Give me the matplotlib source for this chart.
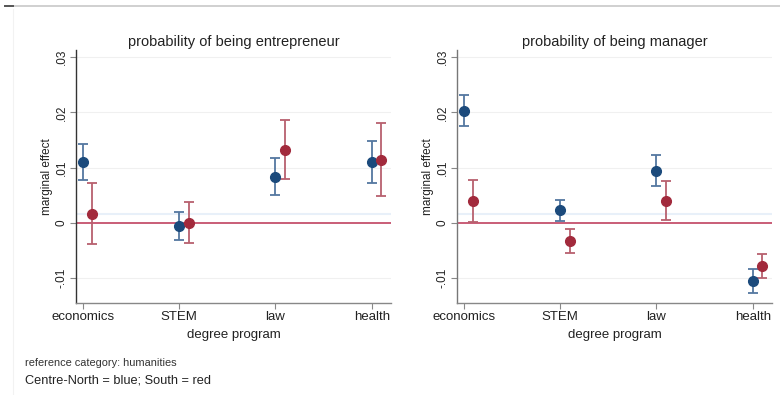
import numpy as np
import matplotlib
matplotlib.use('Agg')
import matplotlib.pyplot as plt
from matplotlib.lines import Line2D

plt.rcParams['font.family'] = ['Liberation Sans', 'DejaVu Sans']

programs = ['economics', 'STEM', 'law', 'health']

# entrepreneur panel
ent_north = [0.0110, -0.0005, 0.0083, 0.0110]
ent_north_lo = [0.0077, -0.0031, 0.0050, 0.0073]
ent_north_hi = [0.0142, 0.0019, 0.0118, 0.0148]
ent_south = [0.0016, 0.0000, 0.0132, 0.0114]
ent_south_lo = [-0.0038, -0.0037, 0.0079, 0.0049]
ent_south_hi = [0.0072, 0.0038, 0.0186, 0.0181]

# manager panel
man_north = [0.0203, 0.0023, 0.0094, -0.0106]
man_north_lo = [0.0175, 0.0003, 0.0067, -0.0127]
man_north_hi = [0.0232, 0.0042, 0.0123, -0.0084]
man_south = [0.0040, -0.0033, 0.0040, -0.0078]
man_south_lo = [0.0002, -0.0054, 0.0005, -0.0099]
man_south_hi = [0.0078, -0.0011, 0.0075, -0.0056]

yticks = [-0.01, 0, 0.01, 0.02, 0.03]
yticklabels = ['-.01', '0', '.01', '.02', '.03']

blue, blue_ci = '#1b4a7c', '#5477a0'
red, red_ci = '#a22a3c', '#b8606e'


def draw_panel(ax, title, north, nlo, nhi, south, slo, shi, spine_col):
    x = np.arange(1, len(programs) + 1)
    for yv in [-0.01, 0.01, 0.02, 0.03]:
        ax.axhline(yv, color='#f0f0f0', lw=0.8, zorder=0)
    ax.axhline(0.0016, color='#e8f0f9', lw=1.5, zorder=1)
    ax.axhline(0, color='#c5506c', lw=1.3, zorder=2)
    n = np.array(north)
    s = np.array(south)
    ax.errorbar(x, n, yerr=[n - np.array(nlo), np.array(nhi) - n], fmt='none',
                ecolor=blue_ci, elinewidth=1.3, capsize=3.5, capthick=1.3, zorder=3)
    ax.plot(x, n, 'o', color=blue, ms=7, zorder=4)
    xs = x + 0.1
    ax.errorbar(xs, s, yerr=[s - np.array(slo), np.array(shi) - s], fmt='none',
                ecolor=red_ci, elinewidth=1.3, capsize=3.5, capthick=1.3, zorder=3)
    ax.plot(xs, s, 'o', color=red, ms=7, zorder=4)

    ax.set_xlim(0.93, 4.2)
    ax.set_ylim(-0.0145, 0.0313)
    ax.set_xticks(x)
    ax.set_xticklabels(programs, fontsize=9.5, color='#222')
    ax.set_yticks(yticks)
    ax.set_yticklabels(yticklabels, fontsize=8.5, rotation=90, va='center', color='#222')
    ax.set_title(title, fontsize=10.5, color='#222', pad=3)
    ax.set_xlabel('degree program', fontsize=9.5, color='#222', labelpad=4)
    ax.set_ylabel('marginal effect', fontsize=8.5, color='#222', labelpad=2)
    for sp in ['top', 'right']:
        ax.spines[sp].set_visible(False)
    ax.spines['left'].set_color(spine_col)
    ax.spines['bottom'].set_color('#888')
    ax.spines['left'].set_linewidth(1.0)
    ax.spines['bottom'].set_linewidth(1.0)
    ax.tick_params(axis='x', colors='#888', labelcolor='#222', length=4, pad=2)
    ax.tick_params(axis='y', colors='#888', labelcolor='#222', length=4, pad=2)


fig = plt.figure(figsize=(7.8, 3.95), dpi=100)
fig.patch.set_facecolor('white')

ax1 = fig.add_axes([0.0974, 0.2329, 0.404, 0.6405])
ax2 = fig.add_axes([0.5859, 0.2329, 0.4038, 0.6405])

draw_panel(ax1, 'probability of being entrepreneur', ent_north, ent_north_lo, ent_north_hi,
           ent_south, ent_south_lo, ent_south_hi, '#333')
draw_panel(ax2, 'probability of being manager', man_north, man_north_lo, man_north_hi,
           man_south, man_south_lo, man_south_hi, '#777')

# frame lines of the screenshot
fig.add_artist(Line2D([0.006, 1.0], [0.984, 0.984], color='#c8c8c8', lw=1.2))
fig.add_artist(Line2D([0.006, 0.017], [0.984, 0.984], color='#555', lw=1.4))
fig.add_artist(Line2D([0.017, 0.017], [0.0, 0.978], color='#f2f2f2', lw=0.8))

fig.text(0.032, 0.081, 'reference category: humanities', fontsize=7.9, color='#333', va='center')
fig.text(0.032, 0.036, 'Centre-North = blue; South = red', fontsize=9.2, color='#222', va='center')

fig.savefig('out.png', dpi=100, facecolor='white')
